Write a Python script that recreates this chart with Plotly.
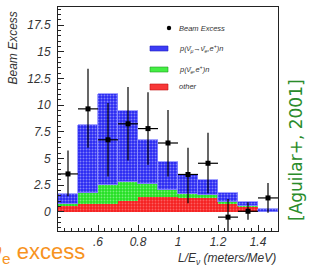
import plotly.graph_objects as go

# ---- data ----
bin_centers = [0.45, 0.55, 0.65, 0.75, 0.85, 0.95, 1.05, 1.15, 1.25, 1.35, 1.45]
other = [0.5, 0.7, 0.7, 1.0, 1.35, 1.35, 1.3, 1.3, 0.8, 0.45, 0.0]
nue_bkg = [0.2, 1.1, 1.8, 1.8, 1.25, 0.65, 0.4, 0.3, 0.15, 0.05, 0.0]
oscillation = [1.0, 6.3, 8.55, 6.65, 4.15, 2.65, 1.75, 1.35, 0.8, 0.4, 0.25]

beam_excess = [3.55, 9.65, 6.75, 8.25, 7.8, 6.45, 3.5, 4.55, -0.5, 0.05, 1.3]
err_up = [2.2, 3.75, 3.45, 3.45, 3.4, 3.1, 2.5, 2.85, 1.7, 0.85, 1.4]
err_down = [2.1, 3.65, 3.45, 3.45, 3.4, 3.15, 2.7, 2.8, 1.7, 0.8, 1.4]
bin_half_width = [0.05] * 11

x_tickvals = [0.6, 0.8, 1.0, 1.2, 1.4]
x_ticktext = [".6", "0.8", "1", "1.2", "1.4"]
y_tickvals = [0, 2.5, 5, 7.5, 10, 12.5, 15, 17.5]
y_ticktext = ["0", "2.5", "5", "7.5", "10", "12.5", "15", "17.5"]

W, H = 310, 267
L, R, T, B = 58, 32, 7, 36
PW, PH = W - L - R, H - T - B


def px(xp):
    return (xp - L) / PW


def py(yp):
    return (H - B - yp) / PH


BLUE, GREEN, RED = "#2828f2", "#22e022", "#f52020"

fig = go.Figure()
fig.add_bar(x=bin_centers, y=other, width=0.1, name="other",
            marker=dict(color=RED, line=dict(width=0),
                        pattern=dict(shape=".", fgcolor="#ffa0a0", size=3, solidity=0.3)))
fig.add_bar(x=bin_centers, y=nue_bkg, width=0.1, name="nue",
            marker=dict(color=GREEN, line=dict(width=0),
                        pattern=dict(shape=".", fgcolor="#d0ffd0", size=3, solidity=0.3)))
fig.add_bar(x=bin_centers, y=oscillation, width=0.1, name="osc",
            marker=dict(color=BLUE, line=dict(width=0.8, color="#8c8cff"),
                        pattern=dict(shape=".", fgcolor="#dcdcff", size=3, solidity=0.35)))
fig.add_scatter(x=bin_centers, y=beam_excess, mode="markers", name="Beam Excess",
                marker=dict(symbol="square", size=5, color="black"),
                error_y=dict(type="data", array=err_up, arrayminus=err_down,
                             color="black", thickness=1.2, width=0),
                error_x=dict(type="data", array=bin_half_width,
                             color="black", thickness=1.2, width=0))

tickfont = dict(family="Liberation Sans", size=12, color="#333", style="italic")
axis_common = dict(showline=True, linecolor="#222", linewidth=1, mirror=True,
                   ticks="inside", ticklen=6, tickcolor="#222", showgrid=False,
                   zeroline=False, tickfont=tickfont)

fig.update_layout(
    width=W, height=H, margin=dict(l=L, r=R, t=T, b=B),
    paper_bgcolor="white", plot_bgcolor="white",
    barmode="stack", bargap=0, showlegend=False,
    xaxis=dict(range=[0.4, 1.5], tickvals=x_tickvals, ticktext=x_ticktext,
               minor=dict(ticks="inside", ticklen=3, dtick=1 / 30, tick0=0.4, tickcolor="#222"),
               **axis_common),
    yaxis=dict(range=[-1.8, 19.2], tickvals=y_tickvals, ticktext=y_ticktext,
               minor=dict(ticks="inside", ticklen=3, dtick=0.5, tick0=0, tickcolor="#222"),
               ticklabelstandoff=4, **axis_common),
)

# legend (manual)
fig.add_shape(type="circle", xref="paper", yref="paper",
              x0=px(166.8), x1=px(171.2), y0=py(30.2), y1=py(25.8),
              fillcolor="black", line=dict(width=0))
for (y0, y1, fc, lc) in [(46, 51, "#3c3cf5", "#2020c0"), (67, 72, "#44ee44", "#20a020"),
                         (84, 90, "#f83838", "#c01010")]:
    fig.add_shape(type="rect", xref="paper", yref="paper",
                  x0=px(150), x1=px(168), y0=py(y1), y1=py(y0),
                  fillcolor=fc, line=dict(width=0.6, color=lc))
leg_font = dict(family="Liberation Sans", size=7.5, color="#333", style="italic")
for (yc, txt) in [(28, "Beam Excess"),
                  (48.5, "p(ν̄<sub>μ</sub>→ν̄<sub>e</sub>,e<sup>+</sup>)n"),
                  (69.5, "p(ν̄<sub>e</sub>,e<sup>+</sup>)n"),
                  (87, "other")]:
    fig.add_annotation(xref="paper", yref="paper", x=px(177), y=py(yc), text=txt,
                       showarrow=False, xanchor="left", yanchor="middle", font=leg_font)

# axis titles
fig.add_annotation(xref="paper", yref="paper", x=px(13), y=py(10), text="Beam Excess",
                   textangle=-90, showarrow=False, xanchor="center", yanchor="top",
                   font=dict(family="Liberation Sans", size=12, color="#333", style="italic"))
fig.add_annotation(xref="paper", yref="paper", x=px(278), y=py(259),
                   text="L/E<sub>ν</sub> (meters/MeV)", showarrow=False,
                   xanchor="right", yanchor="middle",
                   font=dict(family="Liberation Sans", size=12, color="#333", style="italic"))

# slide decorations
fig.add_annotation(xref="paper", yref="paper", x=px(296), y=py(150),
                   text="[Aguilar+, 2001]", textangle=-90, showarrow=False,
                   xanchor="center", yanchor="middle",
                   font=dict(family="DejaVu Sans", size=17, color="#2a8c2a"))
fig.add_annotation(xref="paper", yref="paper", x=px(87), y=py(253),
                   text="ν<sub>e</sub> excess", showarrow=False,
                   xanchor="right", yanchor="middle",
                   font=dict(family="Liberation Sans", size=22, color="#f7931e"))

fig.write_html("out.html", config={"displayModeBar": False},
               post_script="document.body.style.margin='0';document.body.style.padding='0';")
